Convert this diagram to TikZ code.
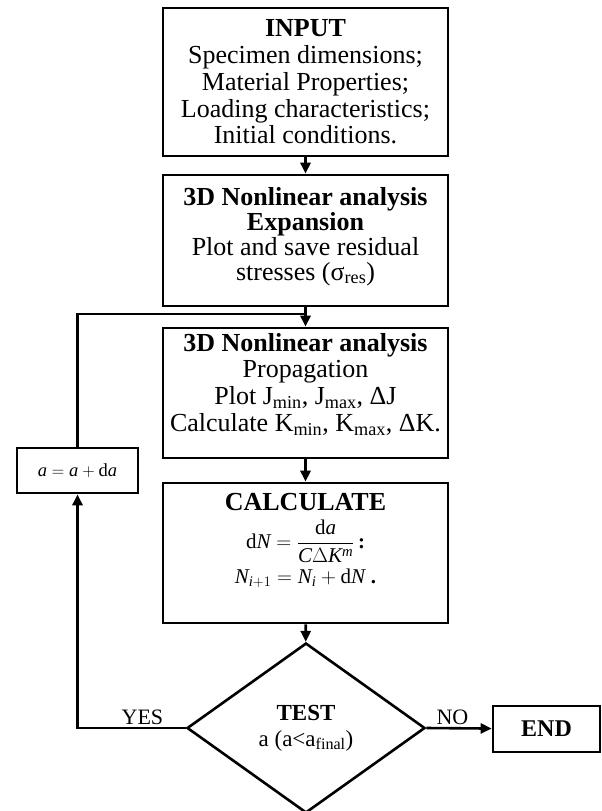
\documentclass[tikz,border=0pt]{standalone}
\usepackage{fontspec}
\setmainfont{Liberation Serif}
\usetikzlibrary{shapes.geometric,arrows.meta}

\begin{document}
\begin{tikzpicture}[x=1pt,y=1pt,line width=2.6pt,
  >={Triangle[length=11pt,width=10pt]},
  block/.style={rectangle,draw,align=center,minimum width=285pt,inner sep=0pt,
    font=\fontsize{26}{26.8}\selectfont},
  small/.style={rectangle,draw,align=center,inner sep=0pt,
    font=\fontsize{24}{26.5}\selectfont},
  decide/.style={diamond,draw,align=center,inner sep=0pt,aspect=1.4,
    minimum width=238pt,minimum height=170pt,font=\fontsize{23}{26}\selectfont},
  answer/.style={font=\fontsize{22}{24}\selectfont,inner sep=2pt}]
\useasboundingbox (0,0) rectangle (602,-811);

\path (305.5,-82) node[block,minimum height=148pt] (input)
  {\textbf{INPUT}\\Specimen dimensions;\\Material Properties;\\Loading characteristics;\\Initial conditions.};

\path (305.5,-240.5) node[block,minimum height=131pt] (expand)
  {\parbox[c][127pt][t]{280pt}{\centering\fontsize{26}{25}\selectfont\vspace*{10pt}
   \textbf{3D Nonlinear analysis}\\\textbf{Expansion}\\Plot and save residual\\stresses (σ\textsubscript{res})\par}};
\draw[->] (input) -- (expand);

\path (305.5,-393) node[block,minimum height=130pt] (propag)
  {\parbox[c][126pt][t]{280pt}{\centering\vspace*{3pt}
   \textbf{3D Nonlinear analysis}\\Propagation\\Plot J\textsubscript{min}, J\textsubscript{max}, ΔJ\\Calculate K\textsubscript{min}, K\textsubscript{max}, ΔK.\par}};
\draw[->] (expand) -- (propag);

\path (305.5,-553) node[block,minimum height=140pt] (calc)
  {\parbox[c][136pt][t]{280pt}{\centering\fontsize{21}{30}\selectfont
   \lineskiplimit=-100pt\lineskip=0pt\vspace*{8pt}
   {\fontsize{26}{30}\selectfont\bfseries CALCULATE}\\[8pt]
   $\displaystyle\mathrm{d}\mathit{N}=\frac{\mathrm{d}\mathit{a}}{\mathit{C}\Delta\mathit{K}^{\mathit{m}}}$\,\textbf{:}\\[5pt]
   $\mathit{N}_{\mathit{i}+1}=\mathit{N}_{\mathit{i}}+\mathrm{d}\mathit{N}$\;\textbf{.}\par}};
\draw[->] (propag) -- (calc);

\path (306,-728) node[decide] (test)
  {\textbf{TEST}\\a (a<a\textsubscript{final})};
\draw[->] (calc) -- (test);

\path (546.5,-729) node[small,minimum width=107pt,minimum height=46pt] (stop) {\textbf{END}};
\draw[->] (test.east) -- node[answer,above,pos=0.4]{NO} (stop);

% loop back
\path (77.5,-470.5) node[small,minimum width=121pt,minimum height=45pt,
  font=\fontsize{18.5}{20}\selectfont] (update)
  {$\mathit{a}=\mathit{a}+\mathrm{d}\mathit{a}$};
\draw[->] (test.west) -| node[answer,above,pos=0.2]{YES} (update);
\coordinate (join) at (305.5,-314);
\draw (update) |- (join);
\end{tikzpicture}
\end{document}
